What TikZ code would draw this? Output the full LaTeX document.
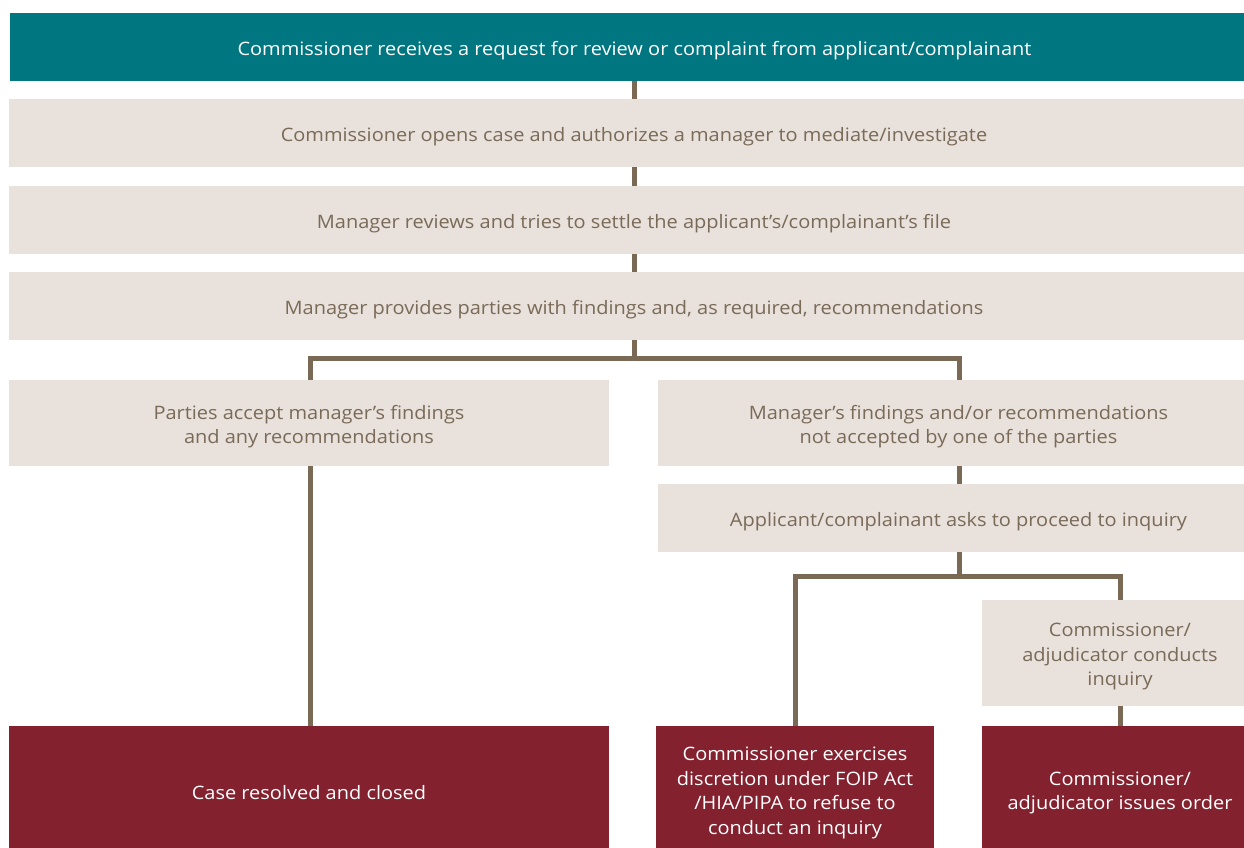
\documentclass[tikz,border=0pt]{standalone}
\usepackage{fontspec}
\setmainfont[FakeStretch=1.08]{Open Sans}
\usetikzlibrary{backgrounds}
\definecolor{teal}{HTML}{007681}
\definecolor{sand}{HTML}{E9E1DB}
\definecolor{sandtext}{HTML}{7A6A58}
\definecolor{wine}{HTML}{83212F}
\definecolor{wire}{HTML}{7A6A55}
\tikzset{
  box/.style={rectangle, inner sep=0pt, outer sep=0pt},
  label text/.style={inner sep=0pt, align=center,
    font=\fontsize{18.5}{24.5}\selectfont},
  head/.style={box, fill=teal},
  stage/.style={box, fill=sand},
  outcome/.style={box, fill=wine},
  headtext/.style={label text, text=white},
  stagetext/.style={label text, text=sandtext},
  outcometext/.style={label text, text=white},
  link/.style={draw=wire, line width=5pt},
}
% a filled box from its corner coordinates plus its centred caption:
% #1 style, #2 name, #3 x0, #4 y0, #5 x1, #6 y1, #7 text
\newcommand{\flowbox}[7]{%
  \node[#1, minimum width=#5pt-#3pt, minimum height=#6pt-#4pt]
    (#2) at ({(#3+#5)/2},{(#4+#6)/2}) {};
  \node[#1text] (#2-text) at ([yshift=-3.5pt]#2.center) {#7};}
\begin{document}
\begin{tikzpicture}[x=1pt, y=-1pt]
\useasboundingbox (0,0) rectangle (1244,847);

% boxes on the right run on past the page edge, as do the outcome boxes at the bottom
\flowbox{head}{recv}{10}{13}{1259}{81}{Commissioner receives a request for review or complaint from applicant/complainant}
\flowbox{stage}{open}{9}{99}{1259}{167}{Commissioner opens case and authorizes a manager to mediate/investigate}
\flowbox{stage}{settle}{9}{186}{1259}{254}{Manager reviews and tries to settle the applicant’s/complainant’s file}
\flowbox{stage}{findings}{9}{272}{1259}{340}{Manager provides parties with findings and, as required, recommendations}
\flowbox{stage}{accept}{9}{380}{609}{466}{Parties accept manager’s findings\\and any recommendations}
\flowbox{stage}{reject}{658}{380}{1259}{466}{Manager’s findings and/or recommendations\\not accepted by one of the parties}
\flowbox{stage}{ask}{658}{484}{1259}{552}{Applicant/complainant asks to proceed to inquiry}
\flowbox{stage}{inquiry}{982}{600}{1258}{706}{Commissioner/\\adjudicator conducts\\inquiry}
\flowbox{outcome}{closed}{9}{726}{609}{853}{Case resolved and closed}
\flowbox{outcome}{refuse}{656}{726}{934}{853}{Commissioner exercises\\discretion under FOIP Act\\/HIA/PIPA to refuse to\\conduct an inquiry}
\flowbox{outcome}{order}{982}{726}{1258}{853}{Commissioner/\\adjudicator issues order}

% junction points of the connector tree
\coordinate (trunk) at (634,0);
\coordinate (splitA) at (634,358);
\coordinate (colL) at (310,0);
\coordinate (colR) at (959,0);
\coordinate (splitB) at (959,576);
\coordinate (colM) at (795,0);
\coordinate (colO) at (1120,0);

\begin{pgfonlayer}{background}
\draw[link] (recv.south -| trunk) -- (open.north -| trunk);
\draw[link] (open.south -| trunk) -- (settle.north -| trunk);
\draw[link] (settle.south -| trunk) -- (findings.north -| trunk);
\draw[link] (findings.south -| trunk) -- (splitA);
\draw[link, line cap=rect] (splitA -| colL) -- (splitA -| colR);
\draw[link] (splitA -| colL) -- (closed.north -| colL);
\draw[link] (splitA -| colR) -- (reject.north -| colR);
\draw[link] (reject.south -| colR) -- (ask.north -| colR);
\draw[link] (ask.south -| colR) -- (splitB);
\draw[link, line cap=rect] (splitB -| colM) -- (splitB -| colO);
\draw[link] (splitB -| colM) -- (refuse.north -| colM);
\draw[link] (splitB -| colO) -- (inquiry.north -| colO);
\draw[link] (inquiry.south -| colO) -- (order.north -| colO);
\end{pgfonlayer}
\end{tikzpicture}
\end{document}
